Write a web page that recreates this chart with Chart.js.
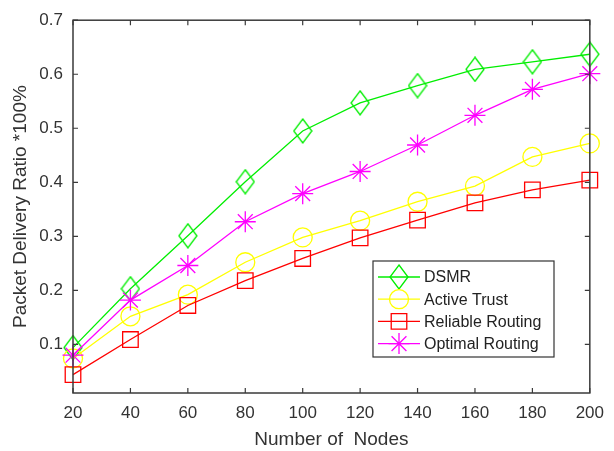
<!DOCTYPE html>
<html>
<head>
<meta charset="utf-8">
<script src="https://cdn.jsdelivr.net/npm/chart.js@4.4.1/dist/chart.umd.min.js"></script>
<style>
  html, body { margin: 0; padding: 0; background: #fff; }
  #wrap { position: relative; width: 614px; height: 451px; }
</style>
</head>
<body>
<div id="wrap"><canvas id="chart" width="614" height="451"></canvas></div>
<script>
// ── Data ──
const nodes       = [20, 40, 60, 80, 100, 120, 140, 160, 180, 200];
const dsmr        = [0.094, 0.203, 0.301, 0.401, 0.495, 0.547, 0.579, 0.609, 0.623, 0.637];
const activeTrust = [0.074, 0.152, 0.192, 0.252, 0.298, 0.329, 0.364, 0.393, 0.447, 0.472];
const reliable    = [0.044, 0.109, 0.172, 0.218, 0.259, 0.297, 0.330, 0.362, 0.386, 0.404];
const optimal     = [0.080, 0.182, 0.246, 0.327, 0.379, 0.420, 0.469, 0.524, 0.572, 0.601];
const seriesNames = ['DSMR', 'Active Trust', 'Reliable Routing', 'Optimal Routing'];
const xTicks      = [20, 40, 60, 80, 100, 120, 140, 160, 180, 200];
const yTicks      = [0.1, 0.2, 0.3, 0.4, 0.5, 0.6, 0.7];

const FONT = '"Liberation Sans", Arial, sans-serif';
const AXIS = '#3a3a3a';

// MATLAB style diamond (taller than wide)
function diamond(color) {
    const c = document.createElement('canvas');
    c.width = 20; c.height = 26;
    const g = c.getContext('2d');
    g.strokeStyle = color;
    g.lineWidth = 1.3;
    g.beginPath();
    g.moveTo(10, 1); g.lineTo(19, 13); g.lineTo(10, 25); g.lineTo(1, 13);
    g.closePath();
    g.stroke();
    return c;
}

const toXY = arr => arr.map((v, i) => ({ x: nodes[i], y: v }));

function series(label, values, color, pointStyle, radius, order) {
    return {
        label, data: toXY(values), order,
        borderColor: color, backgroundColor: 'transparent',
        borderWidth: 1.3, pointStyle, pointRadius: radius, pointHoverRadius: radius,
        pointBorderColor: color, pointBackgroundColor: 'transparent', pointBorderWidth: 1.3,
        tension: 0, clip: false
    };
}

// ── Box with inward ticks on all four sides ──
const boxPlugin = {
    id: 'box',
    afterDatasetsDraw(chart) {
        const { ctx, chartArea: a, scales: { x, y } } = chart;
        ctx.save();
        ctx.strokeStyle = AXIS;
        ctx.lineWidth = 1.5;
        ctx.strokeRect(a.left, a.top, a.right - a.left, a.bottom - a.top);
        ctx.lineWidth = 1.2;
        ctx.beginPath();
        xTicks.forEach(v => {
            const px = x.getPixelForValue(v);
            ctx.moveTo(px, a.bottom); ctx.lineTo(px, a.bottom - 5);
            ctx.moveTo(px, a.top);    ctx.lineTo(px, a.top + 5);
        });
        yTicks.forEach(v => {
            const py = y.getPixelForValue(v);
            ctx.moveTo(a.left, py);  ctx.lineTo(a.left + 5, py);
            ctx.moveTo(a.right, py); ctx.lineTo(a.right - 5, py);
        });
        ctx.stroke();
        ctx.restore();
    }
};

// ── Legend box inside the plot (lower right) ──
const legendPlugin = {
    id: 'boxLegend',
    afterDraw(chart) {
        const { ctx } = chart;
        const bx = 373, by = 261, bw = 181, bh = 96;
        ctx.save();
        ctx.fillStyle = '#fff';
        ctx.fillRect(bx, by, bw, bh);
        ctx.strokeStyle = '#333';
        ctx.lineWidth = 1.2;
        ctx.strokeRect(bx, by, bw, bh);
        ctx.font = '16px ' + FONT;
        ctx.textBaseline = 'middle';
        chart.data.datasets.forEach((ds, i) => {
            const cy = by + 16 + i * 22.2;
            ctx.strokeStyle = ds.borderColor;
            ctx.lineWidth = 1.3;
            ctx.beginPath();
            ctx.moveTo(bx + 5, cy); ctx.lineTo(bx + 47, cy);
            ctx.stroke();
            ctx.fillStyle = 'rgba(0,0,0,0)';
            Chart.helpers.drawPoint(ctx, {
                pointStyle: ds.pointStyle, radius: ds.pointRadius, rotation: 0, borderWidth: 1.3
            }, bx + 26, cy);
            ctx.fillStyle = '#222';
            ctx.fillText(ds.label, bx + 51, cy + 1);
        });
        ctx.restore();
    }
};

new Chart(document.getElementById('chart'), {
    type: 'line',
    data: {
        datasets: [
            series(seriesNames[0], dsmr,        '#00ee00', diamond('#00ee00'), 10, 3),
            series(seriesNames[1], activeTrust, '#ffff00', 'circle', 9.5, 2),
            series(seriesNames[2], reliable,    '#ff0000', 'rect', 11, 1),
            series(seriesNames[3], optimal,     '#ff00ff', 'star', 10.5, 0)
        ]
    },
    options: {
        responsive: false,
        animation: false,
        events: [],
        layout: { padding: { left: 0, top: 16, right: 14, bottom: 0 } },
        plugins: { legend: { display: false }, tooltip: { enabled: false } },
        scales: {
            x: {
                type: 'linear', min: 20, max: 200,
                grid: { display: false, drawTicks: false },
                border: { display: false },
                afterBuildTicks: s => { s.ticks = xTicks.map(v => ({ value: v })); },
                afterFit: s => { s.height = 58; },
                ticks: { padding: 10, color: '#333', font: { family: FONT, size: 17 } },
                title: {
                    display: true, text: 'Number of  Nodes', color: '#333',
                    font: { family: FONT, size: 19 }, padding: 0
                }
            },
            y: {
                type: 'linear', min: 0.01, max: 0.7,
                grid: { display: false, drawTicks: false },
                border: { display: false },
                afterBuildTicks: s => { s.ticks = yTicks.map(v => ({ value: v })); },
                afterFit: s => { s.width = 73; },
                ticks: {
                    padding: 10, color: '#333', font: { family: FONT, size: 17 },
                    callback: v => v.toFixed(1)
                },
                title: {
                    display: true, text: 'Packet Delivery Ratio *100%', color: '#333',
                    font: { family: FONT, size: 19 }, padding: { top: 9, bottom: 0 }
                }
            }
        }
    },
    plugins: [boxPlugin, legendPlugin]
});
</script>
</body>
</html>
